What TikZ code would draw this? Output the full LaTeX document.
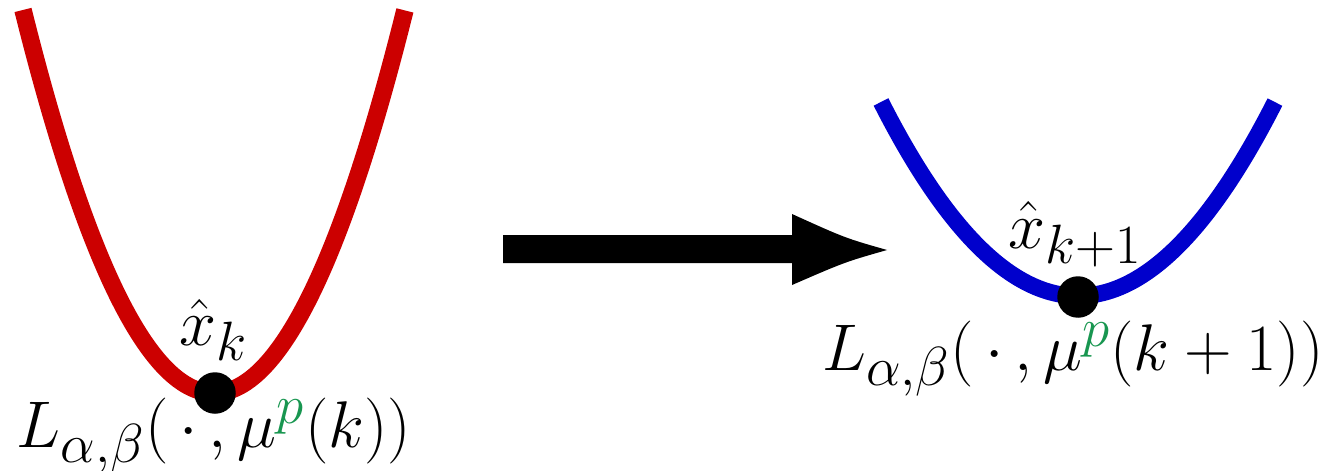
\documentclass[tikz,border=0pt]{standalone}
\usepackage{amsmath}
\definecolor{cred}{RGB}{204,0,0}
\definecolor{cblue}{RGB}{0,0,204}
\definecolor{cgreen}{RGB}{24,150,80}
\newcommand{\biglbl}[1]{\scalebox{1.51}{#1}}
\newcommand{\smalllbl}[1]{\scalebox{1.52}{#1}}
\begin{document}
\begin{tikzpicture}[x=0.02cm,y=-0.02cm,
  curve/.style={line width=0.35cm,line cap=butt},
  dotnode/.style={circle,fill=black,minimum size=0.83cm,inner sep=0pt},
  biglabel/.style={anchor=base,inner sep=0pt,font=\Huge},
  smalllabel/.style={anchor=base,inner sep=0pt,font=\Huge}]
\useasboundingbox (0,0) rectangle (1337,470);
% red parabola
\draw[curve,cred] plot[domain=-1.91:1.91,samples=80,smooth] ({214+100*\x},{393-105*(\x)*(\x)});
% blue parabola
\draw[curve,cblue,line width=0.33cm] plot[domain=-1.97:1.97,samples=80,smooth] ({1078+100*\x},{296-50*(\x)*(\x)});
% dots
\node[dotnode] (d1) at (215,393) {};
\node[dotnode] (d2) at (1078,297) {};
% labels
\node[smalllabel] (xk) at (214,345) {\smalllbl{$\hat{x}_k$}};
\node[biglabel] (L1) at (214,447) {\biglbl{$L_{\alpha,\beta}(\,\cdot\,,\mu^{\textcolor{cgreen}{p}}(k))$}};
\node[smalllabel] (xk1) at (1075,248) {\smalllbl{$\hat{x}_{k+1}$}};
\node[biglabel] (L2) at (1073,370) {\biglbl{$L_{\alpha,\beta}(\,\cdot\,,\mu^{\textcolor{cgreen}{p}}(k+1))$}};
% arrow
\coordinate (a0) at (503,249);
\coordinate (a1) at (887,250);
\fill[black] (503,235) -- (792,235) -- (792,214) .. controls (845,238) .. (a1)
  .. controls (845,262) .. (792,285) -- (792,263) -- (503,263) -- cycle;
\end{tikzpicture}
\end{document}
